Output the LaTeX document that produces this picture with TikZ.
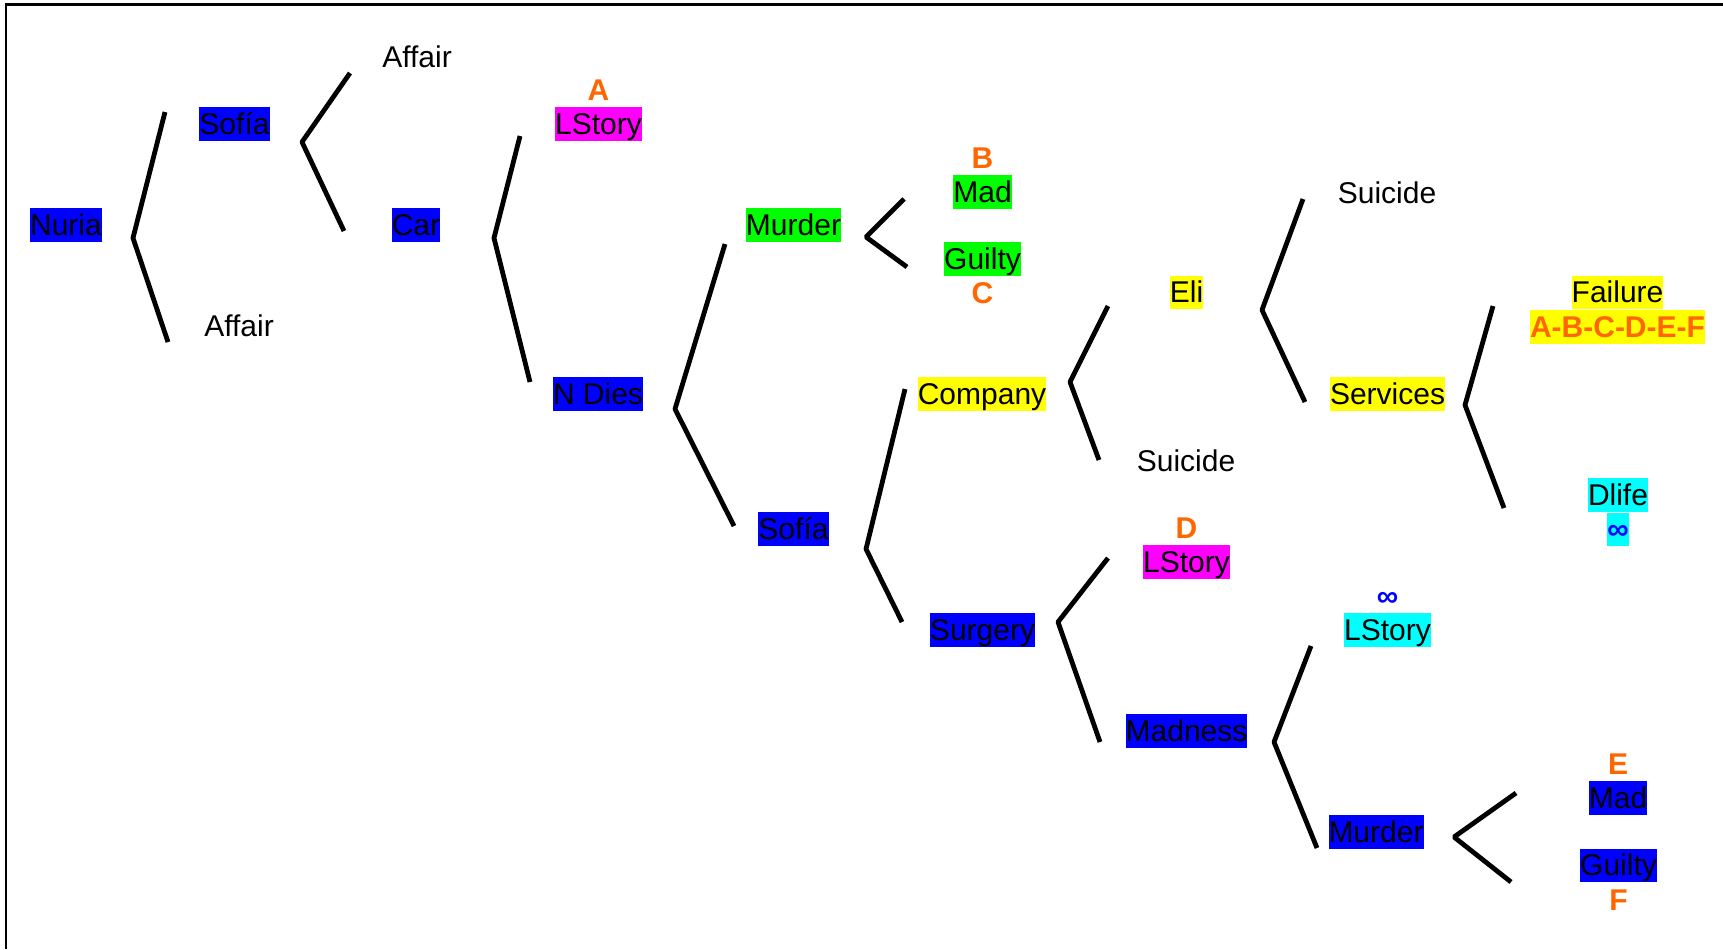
\documentclass[tikz,border=0pt]{standalone}
\usepackage{fontspec}
\setmainfont{Liberation Sans}
\usetikzlibrary{positioning}
\definecolor{hlblue}{RGB}{0,0,255}
\definecolor{hlgreen}{RGB}{0,255,0}
\definecolor{hlmagenta}{RGB}{255,0,255}
\definecolor{hlyellow}{RGB}{255,255,0}
\definecolor{hlcyan}{RGB}{0,255,255}
\definecolor{tagorange}{RGB}{255,102,0}
\tikzset{
  tag/.style={inner sep=0pt,text height=13.6pt,text depth=3.2pt,font=\fontsize{15}{18}\selectfont},
  bluetag/.style={tag,fill=hlblue},
  greentag/.style={tag,fill=hlgreen},
  magentatag/.style={tag,fill=hlmagenta},
  yellowtag/.style={tag,fill=hlyellow},
  cyantag/.style={tag,fill=hlcyan},
  letter/.style={tag,font=\fontsize{15}{18}\selectfont\bfseries,text=tagorange},
  infty/.style={tag,font=\fontsize{15}{18}\selectfont\bfseries,text=hlblue},
  branch/.style={line width=2.4pt,line join=bevel},
  frame/.style={line width=1.4pt,line join=miter},
}
\begin{document}
\begin{tikzpicture}[x=0.5pt,y=-0.5pt]
\useasboundingbox (0,0) rectangle (1723,949);
\draw [frame] (6,949) -- (6,4.7) -- (1723,4.7);
%% nodes
\node (nuria) at (66,225) [bluetag] {Nuria};
\node (sofia_a) at (234.5,124) [bluetag] {Sofía};
\node (affair_b) at (239,326) [tag] {Affair};
\node (affair_a) at (417,57) [tag] {Affair};
\node (car) at (416,225) [bluetag] {Car};
\node (lstory_a) at (598.5,124) [magentatag] {LStory};
\node (lbl_a) [letter,above=0pt of lstory_a] {A};
\node (ndies) at (598,394) [bluetag] {N Dies};
\node (murder_a) at (793.5,225) [greentag] {Murder};
\node (mad_a) at (982.5,192) [greentag] {Mad};
\node (lbl_b) [letter,above=0pt of mad_a] {B};
\node (guilty_a) at (982.5,259) [greentag] {Guilty};
\node (lbl_c) [letter,below=0pt of guilty_a] {C};
\node (sofia_b) at (793.5,529) [bluetag] {Sofía};
\node (company) at (982,394) [yellowtag] {Company};
\node (surgery) at (982.5,630) [bluetag] {Surgery};
\node (eli) at (1186.5,292.5) [yellowtag] {Eli};
\node (suicide_b) at (1186,461) [tag] {Suicide};
\node (lstory_d) at (1186.5,562) [magentatag] {LStory};
\node (lbl_d) [letter,above=0pt of lstory_d] {D};
\node (madness) at (1186.5,731) [bluetag] {Madness};
\node (suicide_a) at (1387,193) [tag] {Suicide};
\node (services) at (1387.5,394) [yellowtag] {Services};
\node (lstory_c) at (1387.5,630) [cyantag] {LStory};
\node (inf_c) [infty,above=0pt of lstory_c] {∞};
\node (murder_b) at (1376,832) [bluetag] {Murder};
\node (failure) at (1617.5,292.5) [yellowtag] {Failure};
\node (lbl_all) [letter,fill=hlyellow,below=0pt of failure] {A-B-C-D-E-F};
\node (dlife) at (1618,495) [cyantag] {Dlife};
\node (inf_d) [infty,fill=hlcyan,below=0pt of dlife] {∞};
\node (mad_b) at (1618,798) [bluetag] {Mad};
\node (lbl_e) [letter,above=0pt of mad_b] {E};
\node (guilty_b) at (1618.5,865.5) [bluetag] {Guilty};
\node (lbl_f) [letter,below=0pt of guilty_b] {F};
%% forks
\coordinate (nuria_up) at (165,112);
\coordinate (nuria_fork) at (133,238);
\coordinate (nuria_down) at (168,342);
\coordinate (sofia_a_up) at (350,73);
\coordinate (sofia_a_fork) at (302,142);
\coordinate (sofia_a_down) at (344,231);
\coordinate (car_up) at (520,136);
\coordinate (car_fork) at (494,238);
\coordinate (car_down) at (530,382);
\coordinate (ndies_up) at (725,244);
\coordinate (ndies_fork) at (675,409);
\coordinate (ndies_down) at (734,526);
\coordinate (murder_a_up) at (904,199);
\coordinate (murder_a_fork) at (866,237);
\coordinate (murder_a_down) at (907,267);
\coordinate (sofia_b_up) at (905,389);
\coordinate (sofia_b_fork) at (866,549);
\coordinate (sofia_b_down) at (902,622);
\coordinate (company_up) at (1108,306);
\coordinate (company_fork) at (1070,382);
\coordinate (company_down) at (1099,460);
\coordinate (surgery_up) at (1108,558);
\coordinate (surgery_fork) at (1058,622);
\coordinate (surgery_down) at (1100,742);
\coordinate (eli_up) at (1303,199);
\coordinate (eli_fork) at (1262,310);
\coordinate (eli_down) at (1305,402);
\coordinate (madness_up) at (1311,646);
\coordinate (madness_fork) at (1274,742);
\coordinate (madness_down) at (1317,848);
\coordinate (services_up) at (1493,306);
\coordinate (services_fork) at (1465,405);
\coordinate (services_down) at (1504,508);
\coordinate (murder_b_up) at (1516,793);
\coordinate (murder_b_fork) at (1454,837);
\coordinate (murder_b_down) at (1511,882);
%% branches
\draw [branch] (nuria_up) -- (nuria_fork) -- (nuria_down);
\draw [branch] (sofia_a_up) -- (sofia_a_fork) -- (sofia_a_down);
\draw [branch] (car_up) -- (car_fork) -- (car_down);
\draw [branch] (ndies_up) -- (ndies_fork) -- (ndies_down);
\draw [branch] (murder_a_up) -- (murder_a_fork) -- (murder_a_down);
\draw [branch] (sofia_b_up) -- (sofia_b_fork) -- (sofia_b_down);
\draw [branch] (company_up) -- (company_fork) -- (company_down);
\draw [branch] (surgery_up) -- (surgery_fork) -- (surgery_down);
\draw [branch] (eli_up) -- (eli_fork) -- (eli_down);
\draw [branch] (madness_up) -- (madness_fork) -- (madness_down);
\draw [branch] (services_up) -- (services_fork) -- (services_down);
\draw [branch] (murder_b_up) -- (murder_b_fork) -- (murder_b_down);
%
\end{tikzpicture}
\end{document}
